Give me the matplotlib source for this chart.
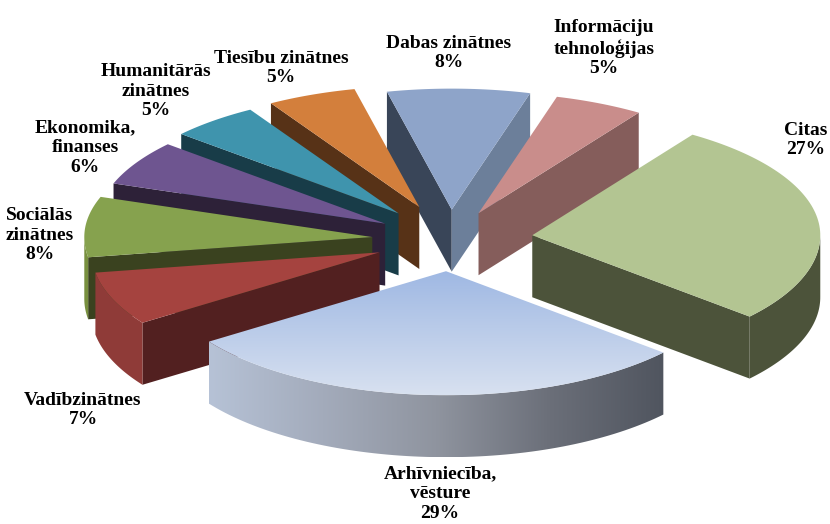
import numpy as np
import matplotlib
matplotlib.use('Agg')
import matplotlib.pyplot as plt
from matplotlib.patches import Polygon
from matplotlib.colors import LinearSegmentedColormap

# clockwise from the top slice
labels = ['Dabas zinātnes', 'Informāciju\ntehnoloģijas', 'Citas', 'Arhīvniecība,\nvēsture',
          'Vadībzinātnes', 'Sociālās\nzinātnes', 'Ekonomika,\nfinanses',
          'Humanitārās\nzinātnes', 'Tiesību zinātnes']
shares = [8, 5, 27, 29, 7, 8, 6, 5, 5]

top_colors = ['#8ea4c9', '#c98d8b', '#b3c592', '#b8cae8', '#a5433f', '#86a24e', '#6e5590', '#3f94ad', '#d37f3c']
start_face = ['#394558', '#855d5b', '#4c533a', '#50555f', '#522020', '#3a421f', '#2d2138', '#183c48', '#573217']
end_face = ['#6c7f9a', '#855d5b', '#4c533a', '#50555f', '#522020', '#3a421f', '#2d2138', '#183c48', '#573217']
rim_colors = ['#6c7f9a', '#855d5b', '#4c533a', '#8f95a3', '#8f3b38', '#78903f', '#5c4878', '#35798d', '#ad6830']
explode = [70, 68, 83, 72, 76, 78, 75, 80, 82]

label_x = [449, 604, 806, 440, 83, 40, 85, 156, 281]
label_y = [53, 48, 140, 494, 410, 235, 148, 91, 68]

cx, cy = 450, 240
rx = 288
ry_back, ry_front = 121, 124
tilt = 0.434
depth = 62
start_angle = -13
draw_order = [0, 8, 1, 7, 2, 6, 5, 4, 3]

plt.rcParams['font.family'] = ['Liberation Serif', 'DejaVu Serif']

fig = plt.figure(figsize=(8.3, 5.24), dpi=100)
ax = fig.add_axes([0, 0, 1, 1])


def arc(ax0, ay0, d1, d2, n=80):
    t = np.radians(np.linspace(d1, d2, n))
    ry = np.where(np.cos(t) > 0, ry_back, ry_front)
    return np.column_stack([ax0 + rx * np.sin(t), ay0 - ry * np.cos(t)])


def gradient_fill(poly, colors, horizontal, z):
    patch = Polygon(poly, closed=True, fc='none', ec='none', zorder=z)
    ax.add_patch(patch)
    cmap = LinearSegmentedColormap.from_list('g', colors)
    grad = np.linspace(0, 1, 256)
    grad = grad.reshape(1, -1) if horizontal else grad.reshape(-1, 1)
    x0, y0 = poly.min(axis=0)
    x1, y1 = poly.max(axis=0)
    im = ax.imshow(grad, cmap=cmap, extent=[x0, x1, y1, y0], aspect='auto', zorder=z, interpolation='bilinear')
    im.set_clip_path(patch)


bounds = start_angle + np.cumsum([0] + shares) * 3.6

for rank, i in enumerate(draw_order):
    d1, d2 = bounds[i], bounds[i + 1]
    mid = np.radians((d1 + d2) / 2)
    ax0 = cx + explode[i] * np.sin(mid)
    ay0 = cy - explode[i] * tilt * np.cos(mid)
    z = 10 + rank * 3

    # side walls only where they face the viewer
    if np.sin(np.radians(d1)) < 0:
        px, py = arc(ax0, ay0, d1, d1, 1)[0]
        ax.add_patch(Polygon([(px, py), (ax0, ay0), (ax0, ay0 + depth), (px, py + depth)],
                             fc=start_face[i], ec='none', zorder=z))
    if np.sin(np.radians(d2)) > 0:
        px, py = arc(ax0, ay0, d2, d2, 1)[0]
        ax.add_patch(Polygon([(px, py), (ax0, ay0), (ax0, ay0 + depth), (px, py + depth)],
                             fc=end_face[i], ec='none', zorder=z))

    # outer rim
    r1, r2 = max(d1, 90), min(d2, 270)
    if r2 > r1:
        top_arc = arc(ax0, ay0, r1, r2)
        low_arc = top_arc[::-1] + [0, depth]
        rim = np.vstack([top_arc, low_arc])
        if labels[i].startswith('Arh'):
            gradient_fill(rim, ['#b6c2d6', '#a3abbb', '#8f949f', '#6b6f79', '#50555f'], True, z + 1)
        else:
            ax.add_patch(Polygon(rim, fc=rim_colors[i], ec='none', zorder=z + 1))

    # top surface
    top = np.vstack([[ax0, ay0], arc(ax0, ay0, d1, d2)])
    if labels[i].startswith('Arh'):
        gradient_fill(top, ['#9fb8e3', '#d8e1f0'], False, z + 2)
    else:
        ax.add_patch(Polygon(top, fc=top_colors[i], ec='none', zorder=z + 2))

for i in range(len(labels)):
    ax.text(label_x[i], label_y[i], f'{labels[i]}\n{shares[i]}%', ha='center', va='center',
            fontsize=14, fontweight='bold', color='black', linespacing=1.22, zorder=100)

ax.set_xlim(0, 830)
ax.set_ylim(524, 0)
ax.axis('off')

plt.savefig('out.png', dpi=100)
plt.close()
